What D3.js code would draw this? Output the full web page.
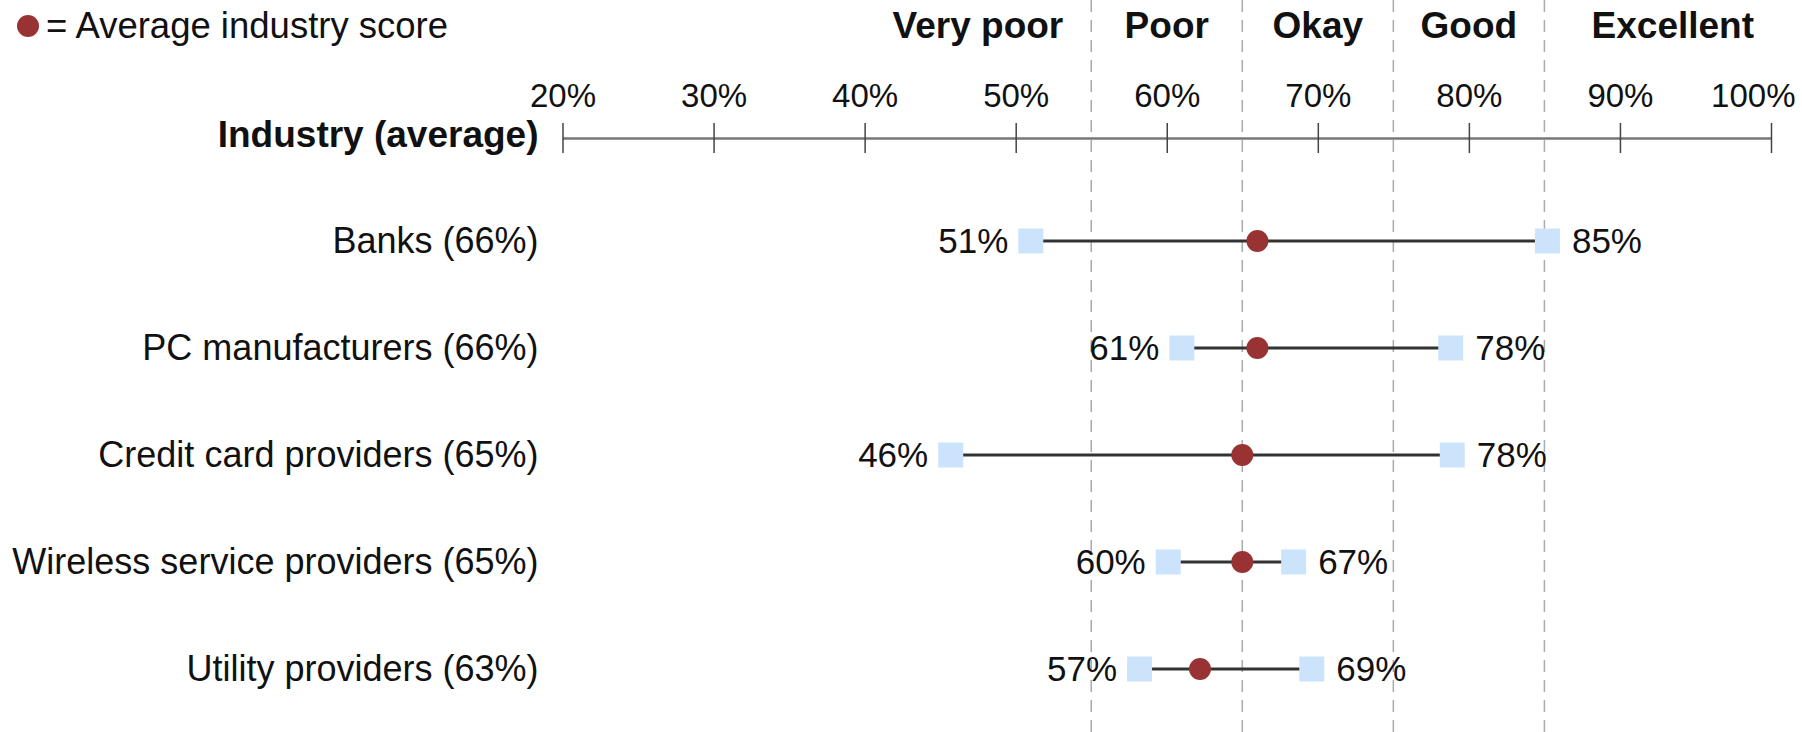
<!DOCTYPE html>
<html>
<head>
<meta charset="utf-8">
<script src="https://cdn.jsdelivr.net/npm/d3@7"></script>
<style>
  body { margin: 0; background: #fff; }
  text { font-family: "Liberation Sans", Arial, sans-serif; fill: #111; }
</style>
</head>
<body>
<svg width="1802" height="732"></svg>
<script>
// data
const industries = ["Banks (66%)", "PC manufacturers (66%)", "Credit card providers (65%)", "Wireless service providers (65%)", "Utility providers (63%)"];
// where the marks sit on the scale (the original plots them a little off the printed numbers)
const averages = [66, 66, 65, 65, 62.2];
const lows = [51, 61, 45.7, 60.1, 58.2];
const highs = [85.2, 78.8, 78.9, 68.4, 69.6];
// printed numbers
const lowLabels = ["51%", "61%", "46%", "60%", "57%"];
const highLabels = ["85%", "78%", "78%", "67%", "69%"];
const tickValues = [20, 30, 40, 50, 60, 70, 80, 90, 100];
const ratingLabels = ["Very poor", "Poor", "Okay", "Good", "Excellent"];
const ratingCenters = [47.5, 60, 70, 80, 93.5];
const ratingBreaks = [55, 65, 75, 85];

const rows = industries.map((name, i) => ({
  name, avg: averages[i], lo: lows[i], hi: highs[i], loText: lowLabels[i], hiText: highLabels[i]
}));

const svg = d3.select("svg");
const height = +svg.attr("height");
const axisY = 138;

const x = d3.scaleLinear().domain([20, 100]).range([562.5, 1771]);
const y = d3.scalePoint().domain(industries).range([241, 669]);

// dashed rating boundaries
svg.selectAll("line.break")
  .data(ratingBreaks)
  .enter()
  .append("line")
  .attr("class", "break")
  .attr("x1", d => x(d)).attr("x2", d => x(d))
  .attr("y1", 0).attr("y2", height)
  .attr("stroke", "#aaa")
  .attr("stroke-width", 1.5)
  .attr("stroke-dasharray", "12,8");

// rating headers
svg.selectAll("text.rating")
  .data(ratingLabels)
  .enter()
  .append("text")
  .attr("class", "rating")
  .attr("x", (d, i) => x(ratingCenters[i]))
  .attr("y", 38)
  .attr("text-anchor", "middle")
  .attr("font-size", 37)
  .attr("font-weight", "bold")
  .text(d => d);

// legend
svg.append("circle").attr("cx", 28).attr("cy", 26).attr("r", 11).attr("fill", "#993333");
svg.append("text").attr("x", 46).attr("y", 38).attr("font-size", 36.5).text("= Average industry score");

// axis
const axis = d3.axisTop(x)
  .tickValues(tickValues)
  .tickFormat(d => d + "%")
  .tickSizeInner(15)
  .tickSizeOuter(0)
  .tickPadding(16);

const gAxis = svg.append("g").attr("transform", `translate(0,${axisY})`).call(axis);
gAxis.select(".domain").attr("stroke", "#777").attr("stroke-width", 2.5);
gAxis.selectAll(".tick line").attr("y1", 15).attr("stroke", "#444").attr("stroke-width", 1.5);
gAxis.selectAll(".tick text")
  .attr("font-size", 33)
  .attr("font-family", "Liberation Sans, Arial, sans-serif")
  .attr("fill", "#111");
// last label pulled in so it fits the page
gAxis.selectAll(".tick text")
  .filter(d => d === 100)
  .attr("text-anchor", "end")
  .attr("x", 24);

svg.append("text")
  .attr("x", x(20) - 24)
  .attr("y", axisY + 9)
  .attr("text-anchor", "end")
  .attr("font-size", 37)
  .attr("font-weight", "bold")
  .text("Industry (average)");

// rows
const g = svg.selectAll("g.row")
  .data(rows)
  .enter()
  .append("g")
  .attr("class", "row")
  .attr("transform", d => `translate(0,${y(d.name)})`);

g.append("text")
  .attr("x", x(20) - 24)
  .attr("y", 12)
  .attr("text-anchor", "end")
  .attr("font-size", 36)
  .text(d => d.name);

g.append("line")
  .attr("x1", d => x(d.lo)).attr("x2", d => x(d.hi))
  .attr("stroke", "#333")
  .attr("stroke-width", 3);

const sq = 25;
g.append("rect")
  .attr("x", d => x(d.lo) - sq / 2).attr("y", -sq / 2)
  .attr("width", sq).attr("height", sq)
  .attr("fill", "#cce4fb");
g.append("rect")
  .attr("x", d => x(d.hi) - sq / 2).attr("y", -sq / 2)
  .attr("width", sq).attr("height", sq)
  .attr("fill", "#cce4fb");

g.append("circle")
  .attr("cx", d => x(d.avg))
  .attr("r", 11)
  .attr("fill", "#993333");

g.append("text")
  .attr("x", d => x(d.lo) - sq / 2 - 10)
  .attr("y", 12)
  .attr("text-anchor", "end")
  .attr("font-size", 35)
  .text(d => d.loText);

g.append("text")
  .attr("x", d => x(d.hi) + sq / 2 + 12)
  .attr("y", 12)
  .attr("font-size", 35)
  .text(d => d.hiText);
</script>
</body>
</html>
